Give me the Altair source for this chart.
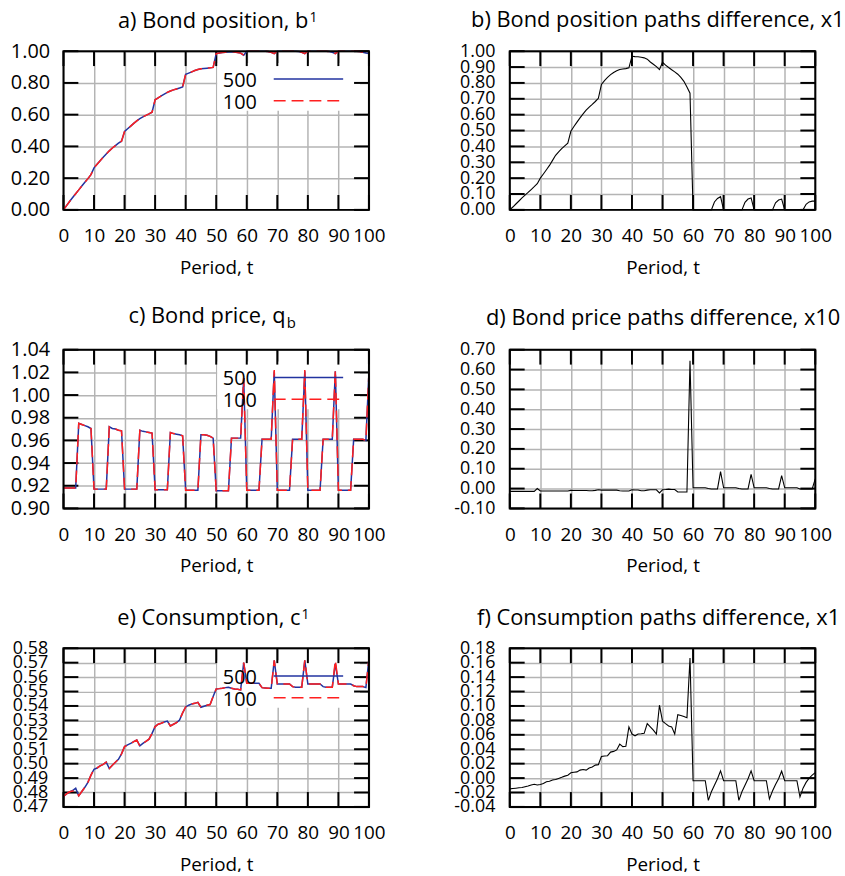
import altair as alt
import pandas as pd

# ---------------------------------------------------------------- data
periods = list(range(101))

# a) bond position of agent 1, two grid sizes
bond_500 = [0.000, 0.027, 0.053, 0.078, 0.102, 0.126, 0.150, 0.174, 0.197, 0.222,
            0.265, 0.288, 0.310, 0.332, 0.352, 0.372, 0.390, 0.405, 0.420, 0.433,
            0.494, 0.511, 0.528, 0.545, 0.561, 0.575, 0.586, 0.596, 0.605, 0.615,
            0.694, 0.706, 0.718, 0.729, 0.740, 0.749, 0.756, 0.762, 0.768, 0.775,
            0.854, 0.862, 0.870, 0.878, 0.885, 0.889, 0.891, 0.893, 0.895, 0.898,
            0.985, 0.988, 0.991, 0.993, 0.995, 0.996, 0.995, 0.992, 0.988, 0.975,
            1.000, 1.000, 1.000, 1.000, 1.000, 1.000, 1.000, 0.998, 0.993, 0.985,
            1.000, 1.000, 1.000, 1.000, 1.000, 1.000, 1.000, 0.998, 0.993, 0.985,
            1.000, 1.000, 1.000, 1.000, 1.000, 1.000, 1.000, 0.998, 0.993, 0.985,
            1.000, 1.000, 1.000, 1.000, 1.000, 1.000, 1.000, 0.998, 0.993, 0.988,
            0.985]
bond_100 = [0.000, 0.027, 0.053, 0.078, 0.102, 0.126, 0.150, 0.174, 0.197, 0.222,
            0.265, 0.288, 0.310, 0.332, 0.352, 0.372, 0.390, 0.405, 0.420, 0.433,
            0.494, 0.511, 0.528, 0.545, 0.561, 0.575, 0.586, 0.596, 0.605, 0.615,
            0.694, 0.706, 0.718, 0.729, 0.740, 0.749, 0.756, 0.762, 0.768, 0.775,
            0.854, 0.862, 0.870, 0.878, 0.885, 0.889, 0.891, 0.893, 0.895, 0.898,
            0.985, 0.988, 0.991, 0.993, 0.995, 0.996, 0.995, 0.992, 0.988, 0.975,
            1.000, 1.000, 1.000, 1.000, 1.000, 1.000, 1.000, 0.998, 0.993, 0.985,
            1.000, 1.000, 1.000, 1.000, 1.000, 1.000, 1.000, 0.998, 0.993, 0.985,
            1.000, 1.000, 1.000, 1.000, 1.000, 1.000, 1.000, 0.998, 0.993, 0.985,
            1.000, 1.000, 1.000, 1.000, 1.000, 1.000, 1.000, 0.998, 0.993, 0.988,
            0.985]

# b) bond position paths difference
bond_diff = [0.000, 0.018, 0.037, 0.056, 0.075, 0.093, 0.110, 0.128, 0.146, 0.165,
             0.200, 0.226, 0.253, 0.280, 0.312, 0.344, 0.366, 0.386, 0.403, 0.420,
             0.495, 0.525, 0.553, 0.580, 0.605, 0.628, 0.648, 0.665, 0.683, 0.703,
             0.790, 0.815, 0.835, 0.852, 0.866, 0.877, 0.885, 0.888, 0.890, 0.895,
             0.968, 0.966, 0.965, 0.962, 0.958, 0.950, 0.932, 0.918, 0.903, 0.884,
             0.930, 0.912, 0.897, 0.883, 0.870, 0.855, 0.835, 0.810, 0.775, 0.735,
             0.000, 0.000, 0.000, 0.000, 0.000, 0.000, 0.000, 0.050, 0.072, 0.083,
             0.000, 0.000, 0.000, 0.000, 0.000, 0.000, 0.000, 0.048, 0.068, 0.075,
             0.000, 0.000, 0.000, 0.000, 0.000, 0.000, 0.000, 0.045, 0.062, 0.068,
             0.000, 0.000, 0.000, 0.000, 0.000, 0.000, 0.000, 0.035, 0.050, 0.055,
             0.055]

# c) bond price
price_500 = [0.918, 0.918, 0.918, 0.918, 0.918, 0.975, 0.974, 0.973, 0.972, 0.9705,
             0.917, 0.917, 0.917, 0.917, 0.917, 0.972, 0.9705, 0.970, 0.969, 0.9685,
             0.917, 0.917, 0.917, 0.917, 0.917, 0.969, 0.968, 0.9675, 0.967, 0.9665,
             0.9165, 0.9165, 0.9165, 0.9165, 0.9165, 0.967, 0.966, 0.9655, 0.965, 0.964,
             0.916, 0.916, 0.916, 0.916, 0.916, 0.965, 0.965, 0.9645, 0.9635, 0.962,
             0.9155, 0.9155, 0.9155, 0.9155, 0.9155, 0.962, 0.962, 0.962, 0.962, 1.015,
             0.916, 0.916, 0.916, 0.916, 0.916, 0.961, 0.961, 0.961, 0.961, 1.021,
             0.916, 0.916, 0.916, 0.916, 0.916, 0.961, 0.961, 0.961, 0.961, 1.021,
             0.916, 0.916, 0.916, 0.916, 0.916, 0.961, 0.961, 0.961, 0.961, 1.021,
             0.916, 0.916, 0.916, 0.916, 0.916, 0.961, 0.961, 0.961, 0.961, 0.960,
             1.020]
price_100 = [0.918, 0.918, 0.918, 0.918, 0.918, 0.975, 0.974, 0.973, 0.972, 0.9705,
             0.917, 0.917, 0.917, 0.917, 0.917, 0.972, 0.9705, 0.970, 0.969, 0.9685,
             0.917, 0.917, 0.917, 0.917, 0.917, 0.969, 0.968, 0.9675, 0.967, 0.9665,
             0.9165, 0.9165, 0.9165, 0.9165, 0.9165, 0.967, 0.966, 0.9655, 0.965, 0.964,
             0.916, 0.916, 0.916, 0.916, 0.916, 0.965, 0.965, 0.9645, 0.9635, 0.962,
             0.9155, 0.9155, 0.9155, 0.9155, 0.9155, 0.962, 0.962, 0.962, 0.962, 1.015,
             0.916, 0.916, 0.916, 0.916, 0.916, 0.961, 0.961, 0.961, 0.961, 1.022,
             0.916, 0.916, 0.916, 0.916, 0.916, 0.961, 0.961, 0.961, 0.961, 1.022,
             0.916, 0.916, 0.916, 0.916, 0.916, 0.961, 0.961, 0.961, 0.961, 1.022,
             0.916, 0.916, 0.916, 0.916, 0.916, 0.961, 0.961, 0.961, 0.961, 0.960,
             1.020]

# d) bond price paths difference
price_diff = [-0.014, -0.014, -0.014, -0.014, -0.014, -0.014, -0.014, -0.014, -0.014, 0.000,
              -0.012, -0.012, -0.012, -0.012, -0.012, -0.012, -0.012, -0.012, -0.012, -0.012,
              -0.009, -0.010, -0.010, -0.010, -0.010, -0.010, -0.011, -0.011, -0.009, -0.006,
              -0.008, -0.008, -0.008, -0.008, -0.008, -0.008, -0.011, -0.012, -0.012, -0.012,
              -0.006, -0.007, -0.007, -0.011, -0.011, -0.008, -0.006, -0.006, -0.006, -0.022,
              -0.006, -0.005, -0.003, -0.005, -0.005, -0.017, -0.017, -0.017, -0.017, 0.644,
              0.004, 0.004, 0.004, 0.004, 0.004, 0.000, -0.002, -0.002, -0.002, 0.085,
              0.004, 0.004, 0.004, 0.004, 0.004, 0.000, -0.002, -0.002, -0.002, 0.072,
              0.004, 0.004, 0.004, 0.004, 0.004, 0.000, -0.002, -0.002, -0.002, 0.065,
              0.004, 0.004, 0.004, 0.004, 0.004, -0.002, -0.002, -0.002, -0.002, -0.002,
              0.049]

# e) consumption of agent 1
cons_500 = [0.4773, 0.4790, 0.4805, 0.4814, 0.4830, 0.4777, 0.4807, 0.4836, 0.4870, 0.4920,
            0.4961, 0.4970, 0.4984, 0.4995, 0.5010, 0.4966, 0.4989, 0.5010, 0.5030, 0.5068,
            0.5118, 0.5130, 0.5140, 0.5152, 0.5164, 0.5123, 0.5140, 0.5155, 0.5170, 0.5210,
            0.5257, 0.5273, 0.5280, 0.5289, 0.5295, 0.5261, 0.5273, 0.5284, 0.5302, 0.5352,
            0.5393, 0.5405, 0.5414, 0.5418, 0.5425, 0.5391, 0.5398, 0.5405, 0.5410, 0.5466,
            0.5518, 0.5520, 0.5523, 0.5527, 0.5530, 0.5523, 0.5518, 0.5516, 0.5511, 0.5700,
            0.5557, 0.5557, 0.5557, 0.5557, 0.5557, 0.5527, 0.5525, 0.5523, 0.5522, 0.5716,
            0.5552, 0.5552, 0.5552, 0.5552, 0.5552, 0.5534, 0.5530, 0.5530, 0.5530, 0.5716,
            0.5552, 0.5552, 0.5552, 0.5552, 0.5552, 0.5534, 0.5530, 0.5530, 0.5530, 0.5695,
            0.5552, 0.5552, 0.5552, 0.5552, 0.5552, 0.5540, 0.5534, 0.5534, 0.5534, 0.5527,
            0.5727]
cons_100 = [0.4773, 0.4790, 0.4805, 0.4810, 0.4812, 0.4777, 0.4807, 0.4836, 0.4870, 0.4920,
            0.4961, 0.4970, 0.4984, 0.4995, 0.5010, 0.4966, 0.4989, 0.5010, 0.5030, 0.5068,
            0.5118, 0.5130, 0.5140, 0.5152, 0.5164, 0.5123, 0.5140, 0.5155, 0.5170, 0.5210,
            0.5257, 0.5273, 0.5280, 0.5289, 0.5295, 0.5261, 0.5273, 0.5284, 0.5302, 0.5352,
            0.5393, 0.5405, 0.5414, 0.5418, 0.5425, 0.5391, 0.5398, 0.5405, 0.5410, 0.5466,
            0.5518, 0.5520, 0.5523, 0.5527, 0.5530, 0.5523, 0.5518, 0.5516, 0.5511, 0.5700,
            0.5557, 0.5557, 0.5557, 0.5557, 0.5557, 0.5527, 0.5525, 0.5523, 0.5522, 0.5716,
            0.5552, 0.5552, 0.5552, 0.5552, 0.5552, 0.5534, 0.5530, 0.5530, 0.5530, 0.5716,
            0.5552, 0.5552, 0.5552, 0.5552, 0.5552, 0.5534, 0.5530, 0.5530, 0.5530, 0.5716,
            0.5552, 0.5552, 0.5552, 0.5552, 0.5552, 0.5540, 0.5534, 0.5534, 0.5534, 0.5527,
            0.5727]

# f) consumption paths difference
cons_diff = [-0.0150, -0.0145, -0.0140, -0.0135, -0.0130, -0.0120, -0.0110, -0.0095, -0.0085, -0.0095,
             -0.0088, -0.0075, -0.0050, -0.0045, -0.0027, -0.0020, -0.0005, 0.0010, 0.0027, 0.0040,
             0.0073, 0.0080, 0.0086, 0.0110, 0.0118, 0.0110, 0.0140, 0.0155, 0.0180, 0.0186,
             0.0300, 0.0305, 0.0310, 0.0360, 0.0370, 0.0390, 0.0470, 0.0436, 0.0440, 0.0710,
             0.0610, 0.0586, 0.0610, 0.0614, 0.0620, 0.0755, 0.0710, 0.0664, 0.0610, 0.1010,
             0.0790, 0.0755, 0.0723, 0.0710, 0.0610, 0.0880, 0.0868, 0.0855, 0.0836, 0.1664,
             -0.0036, -0.0036, -0.0036, -0.0036, -0.0036, -0.0310, -0.0190, -0.0100, -0.0010, 0.0100,
             -0.0036, -0.0036, -0.0036, -0.0036, -0.0036, -0.0310, -0.0190, -0.0100, -0.0010, 0.0100,
             -0.0036, -0.0036, -0.0036, -0.0036, -0.0036, -0.0290, -0.0180, -0.0090, -0.0010, 0.0095,
             -0.0036, -0.0036, -0.0036, -0.0036, -0.0036, -0.0260, -0.0140, -0.0060, 0.0000, 0.0040,
             0.0075]

# axis ticks
period_ticks = [0, 10, 20, 30, 40, 50, 60, 70, 80, 90, 100]
bond_ticks = [0.0, 0.2, 0.4, 0.6, 0.8, 1.0]
bond_diff_ticks = [0.0, 0.1, 0.2, 0.3, 0.4, 0.5, 0.6, 0.7, 0.8, 0.9, 1.0]
price_ticks = [0.90, 0.92, 0.94, 0.96, 0.98, 1.00, 1.02, 1.04]
price_diff_ticks = [-0.1, 0.0, 0.1, 0.2, 0.3, 0.4, 0.5, 0.6, 0.7]
cons_ticks = [0.47, 0.48, 0.49, 0.50, 0.51, 0.52, 0.53, 0.54, 0.55, 0.56, 0.57, 0.58]
cons_diff_ticks = [-0.04, -0.02, 0.0, 0.02, 0.04, 0.06, 0.08, 0.10, 0.12, 0.14, 0.16, 0.18]

legend_labels = ["500", "100"]

# ---------------------------------------------------------------- style
W, H = 308, 160
TICK = 15
FONT = "Open Sans"
BLUE = "#2233a0"
RED = "#ff1f1f"
GRID = "#b4b4b4"
LABEL_EXPR = "(datum.value < 0 ? '-' : '') + format(abs(datum.value), '.2f')"


def one(text):
    return pd.DataFrame({"s": [text]})


def panel(series, ydom, yticks, label_size, label_pad, title_layers, legend):
    xscale = alt.Scale(domain=[0, 100], nice=False, zero=False)
    yscale = alt.Scale(domain=ydom, nice=False, zero=False)

    x_axis = alt.Axis(values=period_ticks, format="d", grid=True, gridColor=GRID,
                      gridWidth=1.5, ticks=False, domain=False, labelFont=FONT,
                      labelFontSize=19, labelColor="black", labelPadding=17,
                      labelFlush=False, labelOverlap=False, title="Period, t",
                      titleFont=FONT, titleFontSize=19, titleFontWeight="normal",
                      titleColor="black", titleY=64, titleBaseline="alphabetic", zindex=0)
    y_axis = alt.Axis(values=yticks, labelExpr=LABEL_EXPR, grid=True, gridColor=GRID,
                      gridWidth=1.5, ticks=False, domain=False, labelFont=FONT,
                      labelFontSize=label_size, labelColor="black", labelPadding=label_pad,
                      labelOverlap=False, labelFlush=False, title="", zindex=0)
    X = lambda: alt.X("t:Q", scale=xscale, axis=x_axis)
    Y = lambda: alt.Y("v:Q", scale=yscale, axis=y_axis)

    layers = []
    if legend:
        # opaque key box
        layers.append(alt.Chart(one("key")).mark_rect(color="white").encode(
            x=alt.value(155), x2=alt.value(299), y=alt.value(12), y2=alt.value(60)))

    # inward tick marks on all four sides
    yt = pd.DataFrame({"v": yticks})
    xt = pd.DataFrame({"t": period_ticks})
    rule = dict(color="black", strokeWidth=2)
    layers += [
        alt.Chart(yt).mark_rule(**rule).encode(y=Y(), x=alt.value(0), x2=alt.value(TICK)),
        alt.Chart(yt).mark_rule(**rule).encode(y=Y(), x=alt.value(W - TICK), x2=alt.value(W)),
        alt.Chart(xt).mark_rule(**rule).encode(x=X(), y=alt.value(H - TICK), y2=alt.value(H)),
        alt.Chart(xt).mark_rule(**rule).encode(x=X(), y=alt.value(0), y2=alt.value(TICK)),
    ]

    # data lines
    for values, color, dash, width in series:
        df = pd.DataFrame({"t": periods, "v": values})
        kw = dict(color=color, strokeWidth=width)
        if dash:
            kw["strokeDash"] = dash
        layers.append(alt.Chart(df).mark_line(**kw).encode(x=X(), y=Y()))

    if legend:
        for label, color, dash, ly, ty in [(legend_labels[0], BLUE, None, 28, 36),
                                            (legend_labels[1], RED, [12, 6], 50, 58)]:
            kw = dict(color=color, strokeWidth=1.5)
            if dash:
                kw["strokeDash"] = dash
            layers.append(alt.Chart(one(label)).mark_rule(**kw).encode(
                x=alt.value(212), x2=alt.value(282), y=alt.value(ly)))
            layers.append(alt.Chart(one(label)).mark_text(
                align="right", baseline="alphabetic", font=FONT, fontSize=20, color="black"
            ).encode(x=alt.value(195), y=alt.value(ty), text="s:N"))

    # plot frame
    layers.append(alt.Chart(one("frame")).mark_rect(
        filled=False, stroke="black", strokeWidth=2).encode(
        x=alt.value(0), x2=alt.value(W), y=alt.value(0), y2=alt.value(H)))

    layers += title_layers
    return alt.layer(*layers).properties(width=W, height=H)


def title_text(text, x, y, size=22, align="left"):
    return alt.Chart(one(text)).mark_text(
        align=align, baseline="alphabetic", font=FONT, fontSize=size, color="black"
    ).encode(x=alt.value(x), y=alt.value(y), text="s:N")


pair = lambda a, b: [(a, BLUE, None, 1.5), (b, RED, [12, 6], 1.5)]
single = lambda a: [(a, "black", None, 1.1)]

pa = panel(pair(bond_500, bond_100), [0, 1], bond_ticks, 20, 14,
           [title_text("a) Bond position, b", 247, -23, align="right"),
            title_text("1", 248, -29, size=14)], True)
pb = panel(single(bond_diff), [0, 1], bond_diff_ticks, 18, 15,
           [title_text("b) Bond position paths difference, x1", -39, -24)], False)
pc = panel(pair(price_500, price_100), [0.90, 1.04], price_ticks, 20, 14,
           [title_text("c) Bond price, q", 224, -27, align="right"),
            title_text("b", 225, -22, size=15)], True)
pd_ = panel(single(price_diff), [-0.10, 0.70], price_diff_ticks, 18, 15,
            [title_text("d) Bond price paths difference, x10", -24, -25)], False)
pe = panel(pair(cons_500, cons_100), [0.47, 0.58], cons_ticks, 18, 16,
           [title_text("e) Consumption, c", 239, -23, align="right"),
            title_text("1", 240, -29, size=14)], True)
pf = panel(single(cons_diff), [-0.04, 0.18], cons_diff_ticks, 18, 15,
           [title_text("f) Consumption paths difference, x1", -33, -23)], False)

chart = alt.concat(pa, pb, pc, pd_, pe, pf, columns=2,
                   spacing={"row": 141, "column": 142}, bounds="flush").properties(
    padding={"left": 10, "top": 6, "right": 0, "bottom": -6}
).configure_view(strokeWidth=0)

chart.save("out.html", embed_options={"renderer": "svg", "actions": False})
